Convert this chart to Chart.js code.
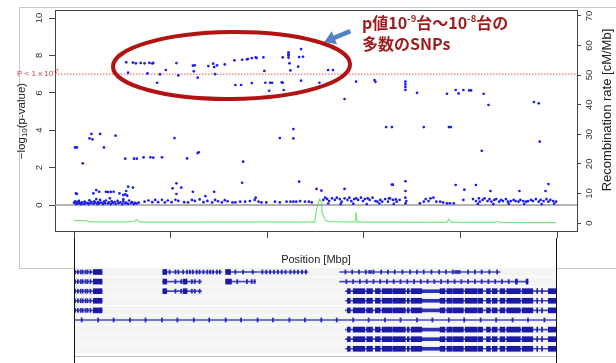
<!DOCTYPE html>
<html>
<head>
<meta charset="utf-8">
<script src="https://cdn.jsdelivr.net/npm/chart.js@4.4.0/dist/chart.umd.min.js"></script>
<style>
  body { margin: 0; background: #fff; }
  #wrap { position: relative; width: 616px; height: 363px; overflow: hidden; }
  canvas { position: absolute; left: 0; }
  #assoc { top: 0; }
  #genes { top: 238px; }
</style>
</head>
<body>
<div id="wrap">
  <canvas id="assoc" width="616" height="270"></canvas>
  <canvas id="genes" width="616" height="125"></canvas>
</div>
<script>
// positions are kb from the left end of the region, values are -log10(p)
const snpsTop = [
  [54,7.63],[56,7.08],[61,7.62],[64,7.58],[69,7.6],[73,7.58],[76,7.04],[78,7.6],[81,7.57],[82,7.6],
  [86,6.54],[89,6.99],[95,7.22],[106,7.59],[108,6.93],[123,7.45],[125,7.47],[124,7.15],[128,6.81],
  [139,7.43],[144,7.56],[145,7.38],[148,7.47],[146,7.0],[156,7.52],[166,7.74],[167,6.42],[173,6.42],
  [174,7.77],[179,7.79],[180,7.81],[184,6.52],[184,7.86],[188,7.9],[189,7.86],[196,7.9],[197,7.17],
  [198,6.54],[203,6.54],[205,6.54],[202,6.11],[215,6.56],[216,6.54],[217,6.15],[216,7.9],[222,8.17],
  [222,8.07],[222,7.99],[222,7.88],[223,7.58],[224,7.2],[235,8.34],[233,7.91],[237,7.93],[232,7.4],
  [235,6.65],[263,7.22],[268,7.22],[254,6.54],[280,5.67],[292,6.6],[311,6.68],[312,6.59],[343,6.6],
  [343,6.45],[343,6.31],[343,6.15],[355,6.0],[386,5.95],[395,6.15],[398,5.97],[403,6.15],[409,6.13],
  [411,6.13],[424,5.95],[429,5.35],[476,5.51],[481,5.44]
];
const snpsMid = [
  [1,3.08],[3,3.08],[9,2.23],[16,3.56],[19,3.51],[18,3.8],[27,3.8],[31,3.08],[43,3.71],[53,2.48],
  [62,2.48],[65,2.48],[72,2.55],[79,2.55],[82,2.53],[91,2.55],[104,3.58],[117,2.49],[128,2.78],
  [129,2.82],[175,2.32],[174,1.19],[213,3.58],[227,3.56],[227,4.06],[233,1.25],[323,4.17],[329,4.17],
  [362,4.17],[388,4.17],[390,4.17],[422,2.9],[482,3.39],[329,1.09],[330,1.09],[343,1.27],[395,1.07],
  [416,1.07],[491,1.12],[106,1.16]
];
const snpsLow = [
  [2,0.62],[3,0.59],[20,0.62],[23,0.8],[26,0.71],[33,0.71],[35,0.69],[38,0.7],[41,0.71],[37,0.36],
  [47,0.62],[51,0.53],[51,0.3],[54,0.75],[53,0.57],[55,0.5],[56,0.98],[61,0.93],[102,0.89],[106,0.59],
  [111,0.93],[123,0.71],[136,0.48],[145,0.71],[188,0.39],[251,0.86],[256,0.77],[280,0.86],[343,0.75],
  [343,0.39],[344,0.21],[326,0.36],[333,0.3],[404,0.82],[403,0.27],[431,0.75],[461,0.75],[488,0.75]
];
const snpsBand = [
  [0,0.12],[1,0.2],[2,0.05],[3,0.15],[4,0.08],[5,0.22],[6,0.1],[7,0.04],[8,0.14],[10,0.06],[11,0.18],
  [12,0.09],[14,0.12],[15,0.05],[16,0.25],[17,0.1],[18,0.16],[20,0.07],[21,0.2],[22,0.12],[23,0.32],
  [24,0.05],[25,0.15],[26,0.09],[27,0.27],[28,0.13],[30,0.06],[31,0.18],[32,0.1],[33,0.24],[35,0.08],
  [36,0.14],[38,0.05],[39,0.2],[40,0.11],[42,0.16],[43,0.06],[45,0.22],[46,0.1],[48,0.14],[50,0.05],
  [51,0.19],[53,0.09],[54,0.13],[56,0.06],[57,0.24],[59,0.1],[60,0.15],[62,0.05],[63,0.11],[65,0.08],
  [67,0.13],
  [73,0.18],[77,0.24],[81,0.15],[84,0.27],[87,0.15],[91,0.28],[94,0.14],[97,0.24],[101,0.15],[105,0.28],
  [108,0.22],[114,0.15],[118,0.14],[122,0.27],[125,0.22],[130,0.3],[134,0.15],[138,0.22],[143,0.14],
  [146,0.27],[149,0.2],[153,0.14],[156,0.26],[159,0.2],[164,0.14],
  [167,0.14],[172,0.18],[177,0.18],[182,0.21],[187,0.27],[191,0.18],[194,0.14],[199,0.14],[208,0.18],
  [213,0.14],[220,0.18],[224,0.18],[227,0.18],[230,0.18],[234,0.21],[239,0.18],[243,0.18],[246,0.14],
  [258,0.27],[260,0.39],[262,0.32],[264,0.21],[267,0.36],[270,0.27],[272,0.39],[275,0.32],[277,0.18],
  [280,0.36],[283,0.27],[285,0.39],[287,0.21],[290,0.32],[292,0.36],[294,0.27],[297,0.39],[299,0.21],
  [301,0.32],[304,0.36],[306,0.27],[309,0.39],[312,0.21],[314,0.18],[317,0.27],[319,0.18],[322,0.32],
  [325,0.18],[327,0.36],[330,0.27],[334,0.18],[337,0.27],
  [263,0.08],[276,0.06],[289,0.07],[303,0.05],[316,0.08],[331,0.06],
  [343,0.09],[358,0.09],[362,0.18],[364,0.32],[367,0.21],[369,0.36],[372,0.39],[375,0.18],[379,0.18],
  [382,0.14],[386,0.09],[389,0.09],[393,0.09],
  [413,0.32],[416,0.21],[419,0.36],[420,0.18],[423,0.27],[425,0.36],[428,0.21],[430,0.32],[432,0.18],
  [435,0.27],[437,0.32],[440,0.18],[442,0.27],[444,0.21],[447,0.32],[449,0.18],[452,0.21],[455,0.27],
  [457,0.21],[460,0.18],[462,0.27],[465,0.21],[468,0.18],[470,0.21],[473,0.27],[475,0.21],[478,0.32],
  [481,0.18],[483,0.27],[486,0.21],[489,0.32],[491,0.18],[493,0.27],[496,0.21],[499,0.18],
  [418,0.06],[434,0.05],[450,0.07],[466,0.06],[484,0.05],[497,0.07]
];

// recombination rate (cM/Mb)
const recombPos  = [0, 12, 16, 55, 62, 65, 68, 120, 200, 245, 249, 251, 254, 256, 257, 260, 263, 280, 291, 292, 293, 330, 384, 386, 388, 390, 392, 430, 436, 439, 442, 470, 499];
const recombRate = [0.8, 0.8, 0.4, 0.4, 0.6, 1.2, 0.3, 0.3, 0.4, 0.3, 0.3, 4.4, 8.1, 7.2, 3.2, 1.0, 0.5, 0.4, 0.4, 3.7, 0.3, 0.3, 0.2, 0.3, 1.3, 0.3, 0.2, 0.2, 0.2, 0.5, 0.2, 0.1, 0.1];

const xTicks = [0, 100, 200, 300, 400, 500];
const logpTicks = [0, 2, 4, 6, 8, 10];
const rateTicks = [0, 10, 20, 30, 40, 50, 60, 70];
const threshold = 7;

// gene models, kb
const geneA  = { rows: [0, 1, 2, 3, 4], span: [1, 29], exons: [[20, 29]], marks: [1, 4, 7, 9, 12, 14, 17] };
const geneB  = { rows: [0], span: [92, 153], exons: [[92, 96]], marks: [99, 105, 108, 113, 117, 120, 123, 127, 130, 134, 138, 141, 144, 148, 151] };
const geneB2 = { rows: [1, 2], span: [92, 132], exons: [[92, 96], [113, 117]], marks: [105, 111, 122, 125, 130] };
const geneC  = { rows: [0], span: [157, 189], exons: [[157, 162]], marks: [167, 175, 185] };
const geneC2 = { rows: [1], span: [157, 188], exons: [[157, 163]], marks: [169, 179, 184, 187] };
const geneD  = { rows: [0], span: [190, 242], marks: [195, 199, 203, 207, 211, 215, 219, 224, 228, 232, 236, 240] };
const geneE  = { rows: [0], span: [275, 441], mids: [[305, 308], [394, 400]], marks: [281, 288, 295, 302, 310, 318, 325, 332, 340, 348, 355, 362, 370, 378, 385, 392, 408, 415, 422, 430, 438] };
const geneF  = { rows: [1], span: [275, 470], exons: [[457, 459], [468, 470]], marks: [282, 289, 296, 303, 310, 317, 324, 331, 338, 345, 352, 359, 366, 373, 380, 387, 394, 401, 408, 415, 422, 429, 436, 443, 450] };
const geneG  = { rows: [2, 3, 4, 6, 7, 8], span: [281, 500], mids: [[360, 379]],
  exons: [[283, 286], [289, 301], [303, 309], [312, 317], [319, 329], [330, 343], [345, 347], [349, 360], [379, 384],
          [386, 391], [392, 403], [405, 417], [418, 423], [427, 431], [433, 438], [441, 446], [448, 462], [464, 475],
          [479, 480], [484, 485], [491, 500]] };
const geneLong = { rows: [5], span: [0, 500], marks: [8, 25, 41, 58, 74, 91, 107, 124, 140, 157, 173, 190, 206, 223, 239, 256, 272, 289, 305, 322, 338, 355, 371, 388, 404, 421, 437, 454, 470, 487] };
const trackRows = [0, 1, 2, 3, 4, 5, 6, 7, 8];

const FONT = "'Liberation Sans', Arial, sans-serif";
Chart.defaults.font.family = FONT;
Chart.defaults.animation = false;

const xMin = -19.7, xMax = 520.6;
const toPts = arr => arr.map(([x, y]) => ({ x, y }));

function drawParts(ctx, parts, x, y, font, small, shift) {
  let cx = x;
  parts.forEach(p => {
    ctx.font = p.s ? small : font;
    ctx.fillText(p.t, cx, y + (p.s ? shift : 0));
    cx += ctx.measureText(p.t).width;
  });
  return cx - x;
}
function partsWidth(ctx, parts, font, small) {
  let w = 0;
  parts.forEach(p => { ctx.font = p.s ? small : font; w += ctx.measureText(p.t).width; });
  return w;
}

const decor = {
  id: "decor",
  beforeDraw(chart) {
    const ctx = chart.ctx;
    ctx.save();
    ctx.strokeStyle = "#c8c8c8";
    ctx.lineWidth = 1;
    ctx.beginPath();
    ctx.moveTo(616, 7.5); ctx.lineTo(19.5, 7.5); ctx.lineTo(19.5, 268.5); ctx.lineTo(616, 268.5);
    ctx.stroke();
    ctx.restore();
  },
  afterDraw(chart) {
    const ctx = chart.ctx;
    const { x, y } = chart.scales;
    const a = chart.chartArea;
    ctx.save();
    // top of the frame
    ctx.strokeStyle = "#444";
    ctx.lineWidth = 1;
    ctx.beginPath();
    ctx.moveTo(a.left, a.top + 0.5); ctx.lineTo(a.right, a.top + 0.5);
    ctx.stroke();

    // axis titles, read bottom to top
    ctx.fillStyle = "#222";
    ctx.textBaseline = "middle";
    ctx.textAlign = "left";
    const lf = "11.5px " + FONT, ls = "8px " + FONT;
    const left = [{ t: "−log" }, { t: "10", s: true }, { t: "(p-value)" }];
    ctx.save();
    ctx.translate(22, 121);
    ctx.rotate(-Math.PI / 2);
    drawParts(ctx, left, -partsWidth(ctx, left, lf, ls) / 2, 0, lf, ls, 3);
    ctx.restore();
    const rf = "13px " + FONT;
    const right = [{ t: "Recombination rate [cM/Mb]" }];
    ctx.save();
    ctx.translate(607, 110);
    ctx.rotate(-Math.PI / 2);
    drawParts(ctx, right, -partsWidth(ctx, right, rf, rf) / 2, 0, rf, rf, 0);
    ctx.restore();

    // threshold label
    ctx.fillStyle = "#e03a3a";
    drawParts(ctx, [{ t: "P < 1 x 10" }, { t: "-7", s: true }], 17, y.getPixelForValue(threshold),
      "8px " + FONT, "6px " + FONT, -3);

    // ellipse round the cluster
    const cx = x.getPixelForValue(163), cy = y.getPixelForValue(7.46);
    const rx = x.getPixelForValue(163 + 122.7) - cx;
    const ry = cy - y.getPixelForValue(7.46 + 1.79);
    ctx.strokeStyle = "#b31212";
    ctx.lineWidth = 4;
    ctx.beginPath();
    ctx.ellipse(cx, cy, rx, ry, -0.01, 0, Math.PI * 2);
    ctx.stroke();

    // arrow
    const x0 = x.getPixelForValue(286), y0 = y.getPixelForValue(9.3);
    const x1 = x.getPixelForValue(259), y1 = y.getPixelForValue(8.72);
    const ang = Math.atan2(y1 - y0, x1 - x0);
    ctx.strokeStyle = ctx.fillStyle = "#5282c2";
    ctx.lineWidth = 4.5;
    ctx.beginPath();
    ctx.moveTo(x0, y0);
    ctx.lineTo(x1 - 8 * Math.cos(ang), y1 - 8 * Math.sin(ang));
    ctx.stroke();
    ctx.beginPath();
    ctx.moveTo(x1, y1);
    ctx.lineTo(x1 - 11 * Math.cos(ang) + 7 * Math.sin(ang), y1 - 11 * Math.sin(ang) - 7 * Math.cos(ang));
    ctx.lineTo(x1 - 11 * Math.cos(ang) - 7 * Math.sin(ang), y1 - 11 * Math.sin(ang) + 7 * Math.cos(ang));
    ctx.closePath();
    ctx.fill();

    // note
    const jp = "bold 16px 'Noto Sans CJK JP', sans-serif";
    const jpSmall = "bold 9.5px 'Noto Sans CJK JP', sans-serif";
    ctx.fillStyle = "#9e1c1c";
    const tx = x.getPixelForValue(298);
    drawParts(ctx, [{ t: "p値10" }, { t: "-9", s: true }, { t: "台～10" }, { t: "-8", s: true }, { t: "台の" }],
      tx, y.getPixelForValue(9.73), jp, jpSmall, -5);
    drawParts(ctx, [{ t: "多数のSNPs" }], tx, y.getPixelForValue(8.61), jp, jpSmall, 0);
    ctx.restore();
  }
};

const axisGrid = { drawOnChartArea: false, color: "#444" };
const tickFont = { size: 9.5, family: FONT };

new Chart(document.querySelector("#assoc"), {
  type: "scatter",
  data: {
    datasets: [
      {
        label: "SNPs",
        data: toPts([...snpsTop, ...snpsMid, ...snpsLow, ...snpsBand]),
        backgroundColor: "#1c1cf0",
        borderWidth: 0,
        pointRadius: 1.35,
        yAxisID: "y",
      },
      {
        label: "threshold",
        data: [{ x: xMin, y: threshold }, { x: xMax, y: threshold }],
        showLine: true,
        borderColor: "#e85050",
        borderWidth: 1,
        borderDash: [1.5, 1.5],
        pointRadius: 0,
        yAxisID: "y",
      },
      {
        label: "zero",
        data: [{ x: xMin, y: 0 }, { x: xMax, y: 0 }],
        showLine: true,
        borderColor: "#9a9a9a",
        borderWidth: 1.5,
        pointRadius: 0,
        yAxisID: "y",
      },
      {
        label: "Recombination rate",
        data: recombPos.map((p, i) => ({ x: p, y: recombRate[i] })),
        showLine: true,
        borderColor: "#7de67d",
        borderWidth: 1.2,
        pointRadius: 0,
        tension: 0,
        yAxisID: "y2",
      },
    ],
  },
  options: {
    responsive: false,
    layout: { padding: { top: 10, left: 0, right: 0, bottom: 0 } },
    plugins: { legend: { display: false }, tooltip: { enabled: false } },
    scales: {
      x: {
        type: "linear",
        min: xMin,
        max: xMax,
        afterBuildTicks: (s) => { s.ticks = xTicks.map((v) => ({ value: v })); },
        afterFit: (s) => { s.height = 39; },
        ticks: { display: false },
        grid: { ...axisGrid, tickLength: 7 },
        border: { color: "#444" },
        title: { display: true, text: "Position [Mbp]", color: "#222", font: { size: 11, family: FONT }, padding: { top: 0, bottom: 3 } },
      },
      y: {
        position: "left",
        min: -1.39,
        max: 10.43,
        afterBuildTicks: (s) => { s.ticks = logpTicks.map((v) => ({ value: v })); },
        afterFit: (s) => { s.width = 55; },
        ticks: { font: tickFont, color: "#333", padding: 4, crossAlign: "center", minRotation: 90, maxRotation: 90, autoSkip: false },
        grid: { ...axisGrid, tickLength: 6 },
        border: { color: "#444" },
      },
      y2: {
        position: "right",
        min: -2.7,
        max: 72,
        afterBuildTicks: (s) => { s.ticks = rateTicks.map((v) => ({ value: v })); },
        afterFit: (s) => { s.width = 39; },
        ticks: { font: tickFont, color: "#333", padding: 3, crossAlign: "center", minRotation: 90, maxRotation: 90, autoSkip: false },
        grid: { ...axisGrid, tickLength: 4 },
        border: { color: "#444" },
      },
    },
  },
  plugins: [decor],
});

// GENE TRACK
const genes = [geneA, geneB, geneB2, geneC, geneC2, geneD, geneE, geneF, geneG, geneLong];
const spans = [], exons = [], mids = [], marks = [];
genes.forEach((g) => g.rows.forEach((r) => {
  spans.push({ x: g.span, y: r });
  (g.exons || []).forEach((e) => exons.push({ x: e, y: r }));
  (g.mids || []).forEach((e) => mids.push({ x: e, y: r }));
  (g.marks || []).forEach((m) => marks.push({ x: [m - 0.6, m + 0.6], y: r }));
}));
const bands = trackRows.map((r) => ({ x: [0, 500], y: r }));

const trackFrame = {
  id: "trackFrame",
  afterDraw(chart) {
    const ctx = chart.ctx;
    const a = chart.chartArea;
    ctx.save();
    ctx.strokeStyle = "#bdbdbd";
    ctx.lineWidth = 1;
    ctx.beginPath();
    ctx.moveTo(a.left, 118.5); ctx.lineTo(a.right, 118.5);
    ctx.stroke();
    ctx.strokeStyle = "#111";
    ctx.beginPath();
    ctx.moveTo(a.left + 0.5, 0); ctx.lineTo(a.left + 0.5, a.bottom);
    ctx.moveTo(a.right - 0.5, 0); ctx.lineTo(a.right - 0.5, a.bottom);
    ctx.stroke();
    ctx.restore();
  }
};

const barSet = (label, data, color, thickness) => ({
  label, data, backgroundColor: color, barThickness: thickness, stack: "genes", borderWidth: 0,
});

new Chart(document.querySelector("#genes"), {
  type: "bar",
  data: {
    datasets: [
      barSet("exons", exons, "#1a1aa4", 5),
      barSet("coding", mids, "#3030b6", 3),
      barSet("marks", marks, "#2a2aae", 4),
      barSet("transcripts", spans, "#4a4ac6", 1),
      barSet("rows", bands, "#f4f4f4", 8),
    ],
  },
  options: {
    responsive: false,
    indexAxis: "y",
    layout: { padding: { left: 74, right: 59, top: 0, bottom: 0 } },
    plugins: { legend: { display: false }, tooltip: { enabled: false } },
    scales: {
      x: { type: "linear", min: 0, max: 500, stacked: false, display: false },
      y: { type: "linear", min: -3.54, max: 9.48, reverse: true, offset: false, display: false },
    },
  },
  plugins: [trackFrame],
});
</script>
</body>
</html>
